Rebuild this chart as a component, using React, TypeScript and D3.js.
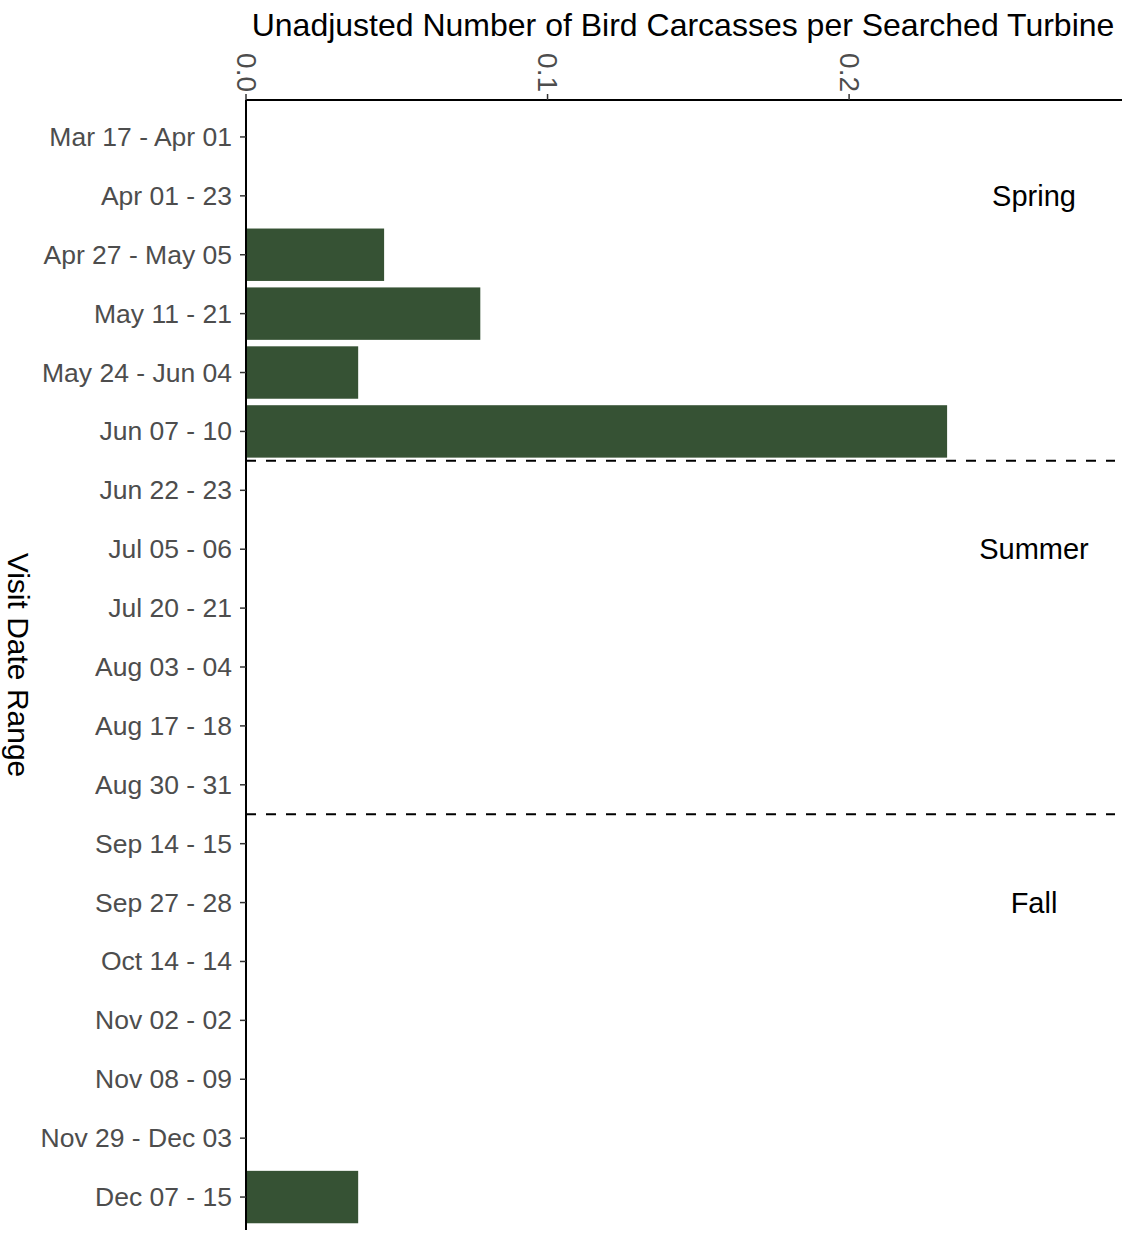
import React from "react";
import * as d3 from "d3";

const categories = [
  "Mar 17 - Apr 01",
  "Apr 01 - 23",
  "Apr 27 - May 05",
  "May 11 - 21",
  "May 24 - Jun 04",
  "Jun 07 - 10",
  "Jun 22 - 23",
  "Jul 05 - 06",
  "Jul 20 - 21",
  "Aug 03 - 04",
  "Aug 17 - 18",
  "Aug 30 - 31",
  "Sep 14 - 15",
  "Sep 27 - 28",
  "Oct 14 - 14",
  "Nov 02 - 02",
  "Nov 08 - 09",
  "Nov 29 - Dec 03",
  "Dec 07 - 15",
];

const values = [0, 0, 0.0458, 0.0777, 0.0372, 0.2325, 0, 0, 0, 0, 0, 0, 0, 0, 0, 0, 0, 0, 0.0372];

const xTicks = [0, 0.1, 0.2];

const seasons = [
  { name: "Spring", labelAt: "Apr 01 - 23" },
  { name: "Summer", labelAt: "Jul 05 - 06" },
  { name: "Fall", labelAt: "Sep 27 - 28" },
];
// dashed boundaries after these categories
const boundariesAfter = ["Jun 07 - 10", "Aug 30 - 31"];

const W = 1130;
const H = 1235;
const left = 246;
const right = 1122;
const top = 100;
const bottom = 1230;
const font = "'Liberation Sans', Arial, sans-serif";

export default function App() {
  const x = d3.scaleLinear().domain([0, 0.2905]).range([left, right]);
  const y = d3
    .scaleBand<string>()
    .domain(categories)
    .range([top + 7.5, bottom - 3.5])
    .paddingInner(0.11)
    .paddingOuter(0.055);
  const bw = y.bandwidth();
  const step = y.step();
  const yc = (c: string) => (y(c) as number) + bw / 2;

  return (
    <svg width={W} height={H} style={{ display: "block", position: "absolute", left: 0, top: 0 }}>
      <rect width={W} height={H} fill="white" />
      {categories.map((c, i) => (
        <rect
          key={c}
          x={x(0)}
          y={y(c)}
          width={x(values[i]) - x(0)}
          height={bw}
          fill="#365234"
        />
      ))}
      {boundariesAfter.map((c) => {
        const yy = yc(c) + step / 2;
        return (
          <line
            key={c}
            x1={left}
            x2={1115}
            y1={yy}
            y2={yy}
            stroke="black"
            strokeWidth={2}
            strokeDasharray="10,10"
          />
        );
      })}
      {seasons.map((s) => (
        <text
          key={s.name}
          x={1034}
          y={yc(s.labelAt)}
          textAnchor="middle"
          dominantBaseline="central"
          fontFamily={font}
          fontSize={29}
          fill="black"
        >
          {s.name}
        </text>
      ))}
      {/* axes */}
      <line x1={left} x2={right} y1={top} y2={top} stroke="black" strokeWidth={2} />
      <line x1={left} x2={left} y1={top} y2={bottom} stroke="black" strokeWidth={2} />
      {xTicks.map((t) => (
        <g key={t}>
          <line x1={x(t)} x2={x(t)} y1={top} y2={top - 6} stroke="#333" strokeWidth={1.5} />
          <text
            transform={`translate(${x(t)},${top - 8}) rotate(90)`}
            textAnchor="end"
            dominantBaseline="central"
            fontFamily={font}
            fontSize={28}
            fill="#4d4d4d"
          >
            {d3.format(".1f")(t)}
          </text>
        </g>
      ))}
      {categories.map((c) => (
        <g key={c}>
          <line x1={left - 6} x2={left} y1={yc(c)} y2={yc(c)} stroke="#333" strokeWidth={1.5} />
          <text
            x={left - 14}
            y={yc(c)}
            textAnchor="end"
            dominantBaseline="central"
            fontFamily={font}
            fontSize={26.5}
            fill="#4d4d4d"
          >
            {c}
          </text>
        </g>
      ))}
      <text
        x={683}
        y={25}
        textAnchor="middle"
        dominantBaseline="central"
        fontFamily={font}
        fontSize={32}
        fill="black"
      >
        Unadjusted Number of Bird Carcasses per Searched Turbine
      </text>
      <text
        transform={`translate(18,${(top + bottom) / 2}) rotate(90)`}
        textAnchor="middle"
        dominantBaseline="central"
        fontFamily={font}
        fontSize={30}
        fill="black"
      >
        Visit Date Range
      </text>
    </svg>
  );
}
